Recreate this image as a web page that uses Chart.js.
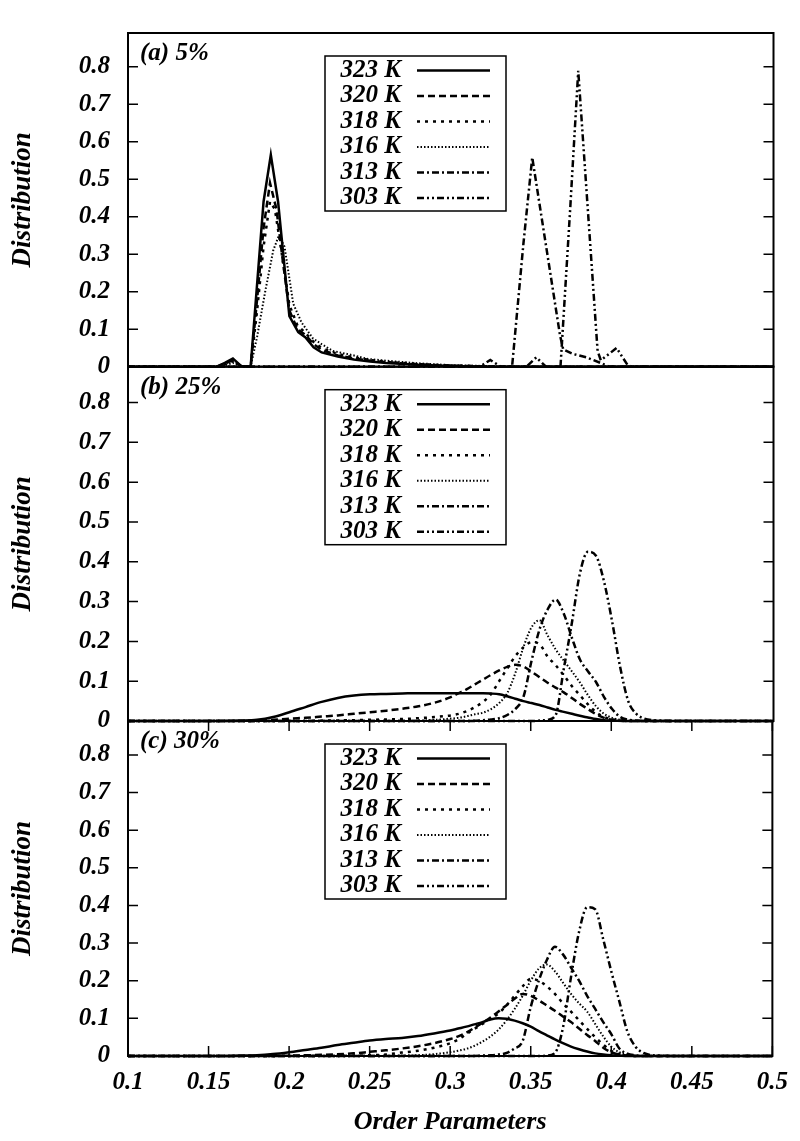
<!DOCTYPE html>
<html>
<head>
<meta charset="utf-8">
<script src="https://cdn.jsdelivr.net/npm/chart.js@4.4.0/dist/chart.umd.min.js"></script>
<style>
body { margin: 0; background: #fff; }
#wrap { position: relative; width: 800px; height: 1141px; }
canvas { position: absolute; left: 0; top: 0; }
</style>
</head>
<body>
<div id="wrap">
<canvas id="pa" width="800" height="1141"></canvas>
<canvas id="pb" width="800" height="1141"></canvas>
<canvas id="pc" width="800" height="1141"></canvas>
</div>
<script>
// temperatures (legend) and one [x, y] list per curve
const temps = ['323 K', '320 K', '318 K', '316 K', '313 K', '303 K'];

// (a) 5%
const a323 = [[0.1,0],[0.155,0],[0.16,0.01],[0.165,0.022],[0.17,0.002],[0.176,0],[0.18,0.22],[0.184,0.44],[0.1885,0.565],[0.193,0.44],[0.2,0.135],[0.2055,0.092],[0.21,0.078],[0.215,0.052],[0.22,0.038],[0.23,0.027],[0.24,0.019],[0.25,0.014],[0.26,0.01],[0.28,0.005],[0.3,0.002],[0.32,0],[0.5,0]];
const a320 = [[0.1,0],[0.155,0],[0.16,0.008],[0.165,0.018],[0.17,0.002],[0.176,0],[0.18,0.18],[0.184,0.37],[0.188,0.49],[0.192,0.42],[0.196,0.28],[0.2,0.15],[0.205,0.1],[0.21,0.085],[0.215,0.06],[0.22,0.045],[0.23,0.03],[0.24,0.022],[0.25,0.016],[0.26,0.012],[0.28,0.006],[0.3,0.003],[0.32,0.001],[0.33,0],[0.5,0]];
const a318 = [[0.1,0],[0.155,0],[0.16,0.006],[0.165,0.015],[0.17,0.002],[0.176,0],[0.18,0.15],[0.184,0.32],[0.188,0.44],[0.191,0.42],[0.195,0.31],[0.2,0.165],[0.205,0.11],[0.21,0.09],[0.215,0.066],[0.22,0.05],[0.23,0.034],[0.24,0.025],[0.25,0.018],[0.26,0.013],[0.28,0.007],[0.3,0.003],[0.32,0.001],[0.33,0],[0.5,0]];
const a316 = [[0.1,0],[0.155,0],[0.16,0.004],[0.165,0.01],[0.17,0.001],[0.176,0],[0.18,0.08],[0.185,0.2],[0.19,0.31],[0.1935,0.35],[0.197,0.32],[0.2024,0.168],[0.2075,0.118],[0.2145,0.076],[0.22,0.06],[0.227,0.042],[0.24,0.03],[0.248,0.021],[0.26,0.016],[0.28,0.009],[0.3,0.004],[0.32,0.002],[0.34,0],[0.5,0]];
const a313 = [[0.1,0],[0.318,0],[0.3245,0.018],[0.331,0],[0.338,0],[0.345,0.327],[0.3505,0.558],[0.3677,0.084],[0.3697,0.046],[0.3757,0.034],[0.384,0.025],[0.3935,0.009],[0.398,0],[0.5,0]];
const a303 = [[0.1,0],[0.347,0],[0.353,0.025],[0.359,0],[0.368,0],[0.374,0.42],[0.379,0.789],[0.391,0.042],[0.393,0.017],[0.4028,0.05],[0.409,0.008],[0.412,0],[0.5,0]];

// (b) 25%
const b323 = [[0.1,0],[0.15,0],[0.17,0.001],[0.18,0.003],[0.19,0.01],[0.2,0.022],[0.21,0.035],[0.22,0.048],[0.23,0.058],[0.24,0.064],[0.25,0.067],[0.26,0.068],[0.27,0.069],[0.28,0.07],[0.3,0.07],[0.32,0.07],[0.325,0.069],[0.33,0.067],[0.335,0.062],[0.34,0.056],[0.345,0.05],[0.35,0.045],[0.355,0.04],[0.36,0.034],[0.365,0.028],[0.37,0.023],[0.375,0.018],[0.38,0.013],[0.385,0.009],[0.39,0.005],[0.395,0.002],[0.4,0.001],[0.41,0],[0.5,0]];
const b320 = [[0.1,0],[0.17,0],[0.18,0.001],[0.19,0.003],[0.2,0.006],[0.21,0.008],[0.22,0.011],[0.23,0.014],[0.24,0.018],[0.25,0.022],[0.26,0.026],[0.27,0.031],[0.28,0.037],[0.29,0.046],[0.3,0.06],[0.305,0.07],[0.31,0.08],[0.315,0.092],[0.32,0.104],[0.325,0.116],[0.33,0.127],[0.335,0.136],[0.34,0.141],[0.345,0.137],[0.35,0.124],[0.355,0.11],[0.36,0.096],[0.365,0.084],[0.37,0.072],[0.375,0.058],[0.38,0.043],[0.385,0.03],[0.39,0.017],[0.395,0.008],[0.4,0.003],[0.405,0.001],[0.41,0],[0.5,0]];
const b318 = [[0.1,0],[0.21,0],[0.22,0.001],[0.24,0.002],[0.25,0.003],[0.26,0.004],[0.27,0.005],[0.28,0.007],[0.29,0.01],[0.3,0.014],[0.305,0.018],[0.31,0.025],[0.315,0.035],[0.32,0.048],[0.325,0.068],[0.33,0.1],[0.335,0.132],[0.34,0.163],[0.345,0.185],[0.35,0.198],[0.355,0.193],[0.36,0.162],[0.365,0.14],[0.37,0.115],[0.375,0.088],[0.38,0.065],[0.385,0.042],[0.39,0.022],[0.395,0.01],[0.4,0.004],[0.405,0.001],[0.41,0],[0.5,0]];
const b316 = [[0.1,0],[0.27,0],[0.28,0.001],[0.29,0.003],[0.3,0.006],[0.305,0.008],[0.31,0.012],[0.315,0.017],[0.32,0.021],[0.325,0.03],[0.33,0.045],[0.335,0.07],[0.34,0.12],[0.345,0.185],[0.35,0.235],[0.355,0.253],[0.36,0.215],[0.365,0.18],[0.37,0.152],[0.375,0.125],[0.38,0.097],[0.385,0.065],[0.39,0.037],[0.395,0.018],[0.4,0.008],[0.405,0.003],[0.41,0.001],[0.415,0],[0.5,0]];
const b313 = [[0.1,0],[0.31,0],[0.32,0.002],[0.325,0.004],[0.33,0.007],[0.335,0.015],[0.34,0.03],[0.345,0.06],[0.35,0.15],[0.355,0.23],[0.36,0.28],[0.365,0.305],[0.37,0.27],[0.375,0.21],[0.38,0.155],[0.385,0.125],[0.39,0.098],[0.395,0.06],[0.4,0.03],[0.405,0.01],[0.41,0.003],[0.415,0.001],[0.42,0],[0.5,0]];
const b303 = [[0.1,0],[0.35,0],[0.355,0.001],[0.36,0.003],[0.365,0.015],[0.37,0.13],[0.375,0.245],[0.38,0.37],[0.385,0.425],[0.39,0.415],[0.395,0.35],[0.4,0.25],[0.405,0.135],[0.41,0.05],[0.415,0.018],[0.42,0.006],[0.43,0.001],[0.44,0],[0.5,0]];

// (c) 30%
const c323 = [[0.1,0],[0.16,0],[0.17,0.001],[0.18,0.002],[0.19,0.005],[0.2,0.01],[0.21,0.016],[0.22,0.022],[0.23,0.029],[0.24,0.035],[0.25,0.041],[0.26,0.045],[0.27,0.048],[0.28,0.053],[0.29,0.06],[0.3,0.068],[0.305,0.073],[0.31,0.078],[0.315,0.084],[0.32,0.09],[0.325,0.097],[0.33,0.1],[0.335,0.099],[0.34,0.094],[0.345,0.087],[0.35,0.078],[0.355,0.066],[0.36,0.055],[0.365,0.044],[0.37,0.034],[0.375,0.025],[0.38,0.018],[0.385,0.012],[0.39,0.007],[0.395,0.004],[0.4,0.002],[0.405,0.001],[0.41,0],[0.5,0]];
const c320 = [[0.1,0],[0.19,0],[0.2,0.001],[0.22,0.003],[0.24,0.007],[0.25,0.011],[0.26,0.015],[0.27,0.02],[0.28,0.026],[0.29,0.034],[0.3,0.045],[0.305,0.052],[0.31,0.062],[0.315,0.075],[0.32,0.088],[0.325,0.102],[0.33,0.118],[0.335,0.135],[0.34,0.152],[0.345,0.165],[0.35,0.16],[0.355,0.148],[0.36,0.134],[0.365,0.12],[0.37,0.105],[0.375,0.09],[0.38,0.073],[0.385,0.056],[0.39,0.04],[0.395,0.022],[0.4,0.01],[0.405,0.004],[0.41,0.001],[0.415,0],[0.5,0]];
const c318 = [[0.1,0],[0.23,0],[0.24,0.001],[0.25,0.002],[0.26,0.004],[0.27,0.009],[0.28,0.014],[0.29,0.022],[0.3,0.034],[0.305,0.044],[0.31,0.058],[0.315,0.072],[0.32,0.085],[0.325,0.099],[0.33,0.113],[0.335,0.135],[0.34,0.16],[0.345,0.185],[0.35,0.205],[0.355,0.2],[0.36,0.185],[0.365,0.165],[0.37,0.14],[0.375,0.118],[0.38,0.095],[0.385,0.072],[0.39,0.05],[0.395,0.03],[0.4,0.014],[0.405,0.005],[0.41,0.001],[0.415,0],[0.5,0]];
const c316 = [[0.1,0],[0.26,0],[0.27,0.001],[0.28,0.002],[0.29,0.005],[0.3,0.01],[0.305,0.014],[0.31,0.019],[0.315,0.027],[0.32,0.038],[0.325,0.052],[0.33,0.07],[0.335,0.095],[0.34,0.125],[0.345,0.16],[0.35,0.2],[0.355,0.232],[0.36,0.243],[0.365,0.225],[0.37,0.195],[0.375,0.165],[0.38,0.14],[0.385,0.118],[0.39,0.085],[0.395,0.052],[0.4,0.025],[0.405,0.01],[0.41,0.003],[0.415,0.001],[0.42,0],[0.5,0]];
const c313 = [[0.1,0],[0.31,0],[0.32,0.001],[0.325,0.002],[0.33,0.004],[0.335,0.008],[0.34,0.02],[0.345,0.04],[0.35,0.13],[0.355,0.2],[0.36,0.255],[0.365,0.29],[0.37,0.27],[0.375,0.235],[0.38,0.2],[0.385,0.16],[0.39,0.125],[0.395,0.09],[0.4,0.058],[0.405,0.02],[0.41,0.006],[0.415,0.002],[0.42,0],[0.5,0]];
const c303 = [[0.1,0],[0.355,0],[0.36,0.001],[0.365,0.008],[0.37,0.075],[0.375,0.21],[0.38,0.33],[0.385,0.395],[0.39,0.39],[0.395,0.31],[0.4,0.225],[0.405,0.145],[0.41,0.065],[0.415,0.025],[0.42,0.008],[0.43,0.001],[0.44,0],[0.5,0]];

const dashes = [[], [7, 4], [3, 5], [1.5, 2], [7, 3, 2, 3], [7, 3, 2, 3, 2, 3]];
const widths = [2.5, 2.5, 2.5, 2, 2.5, 2.5];

const fontFamily = '"Liberation Serif", "Times New Roman", serif';
const tickFont = { family: fontFamily, size: 25, style: 'italic', weight: 'bold' };
const titleFont = { family: fontFamily, size: 27, style: 'italic', weight: 'bold' };

// frame, inward ticks, panel label and boxed key
const deco = {
  id: 'deco',
  afterDraw(chart, args, o) {
    const { ctx, chartArea: a, scales: { x, y } } = chart;
    ctx.save();
    ctx.strokeStyle = '#000';
    ctx.fillStyle = '#000';
    ctx.setLineDash([]);
    ctx.lineWidth = 2;
    ctx.strokeRect(a.left, a.top, a.right - a.left, a.bottom - a.top);

    ctx.lineWidth = 1.5;
    ctx.beginPath();
    y.ticks.forEach(t => {
      const py = y.getPixelForValue(t.value);
      ctx.moveTo(a.left, py); ctx.lineTo(a.left + 10, py);
      ctx.moveTo(a.right, py); ctx.lineTo(a.right - 10, py);
    });
    if (o.xTicks) {
      x.ticks.forEach(t => {
        const px = x.getPixelForValue(t.value);
        ctx.moveTo(px, a.bottom); ctx.lineTo(px, a.bottom - 10);
        ctx.moveTo(px, a.top); ctx.lineTo(px, a.top + 10);
      });
    }
    ctx.stroke();

    ctx.font = 'italic bold 25px ' + fontFamily;
    ctx.textBaseline = 'middle';
    ctx.textAlign = 'left';
    ctx.fillText(o.label, a.left + 12, a.top + 21);

    const bx = 325, by = a.top + 23;
    ctx.lineWidth = 1.5;
    ctx.strokeRect(bx, by, 181, 155);
    chart.data.datasets.forEach((d, i) => {
      const cy = by + 14.5 + i * 25.5;
      ctx.textAlign = 'right';
      ctx.fillText(d.label, 401, cy);
      ctx.setLineDash(d.borderDash);
      ctx.lineWidth = d.borderWidth;
      ctx.beginPath();
      ctx.moveTo(417, cy);
      ctx.lineTo(490, cy);
      ctx.stroke();
      ctx.setLineDash([]);
    });
    ctx.restore();
  }
};

function makePanel(id, series, label, top, bottom, smooth, last) {
  return new Chart(document.getElementById(id), {
    type: 'line',
    data: {
      datasets: series.map((s, i) => ({
        label: temps[i],
        data: s.map(p => ({ x: p[0], y: p[1] })),
        borderColor: '#000',
        borderWidth: widths[i],
        borderDash: dashes[i],
        pointRadius: 0,
        fill: false,
        tension: 0,
        cubicInterpolationMode: smooth ? 'monotone' : 'default',
        clip: false
      }))
    },
    options: {
      responsive: false,
      animation: false,
      events: [],
      layout: { padding: { top: top, bottom: last ? 0 : 1141 - bottom, left: 0, right: 26.5 } },
      plugins: {
        legend: { display: false },
        tooltip: { enabled: false },
        deco: { label: label, xTicks: last }
      },
      scales: {
        x: {
          type: 'linear', min: 0.1, max: 0.5, display: last,
          grid: { display: false, drawTicks: false },
          border: { display: false },
          ticks: { stepSize: 0.05, padding: 12, color: '#000', font: tickFont, maxRotation: 0,
                   callback: v => String(Number(v.toFixed(3))) },
          title: { display: true, text: 'Order Parameters', color: '#000', font: { ...titleFont, size: 26 }, padding: { top: 0, bottom: 3 } },
          afterFit: s => { s.height = last ? 85 : 0; }
        },
        y: {
          min: 0, max: 0.89,
          grid: { display: false, drawTicks: false },
          border: { display: false },
          ticks: { stepSize: 0.1, padding: 18, color: '#000', font: tickFont, autoSkip: false },
          afterBuildTicks: s => { s.ticks = s.ticks.filter(t => t.value < 0.85); },
          title: { display: true, text: 'Distribution', color: '#000', font: titleFont, padding: { top: 7, bottom: 0 } },
          afterFit: s => { s.width = 128; }
        }
      }
    },
    plugins: [deco]
  });
}

makePanel('pa', [a323, a320, a318, a316, a313, a303], '(a) 5%', 13, 366.7, false, false);
makePanel('pb', [b323, b320, b318, b316, b313, b303], '(b) 25%', 366.7, 721, true, false);
makePanel('pc', [c323, c320, c318, c316, c313, c303], '(c) 30%', 721, 1056, true, true);
</script>
</body>
</html>
